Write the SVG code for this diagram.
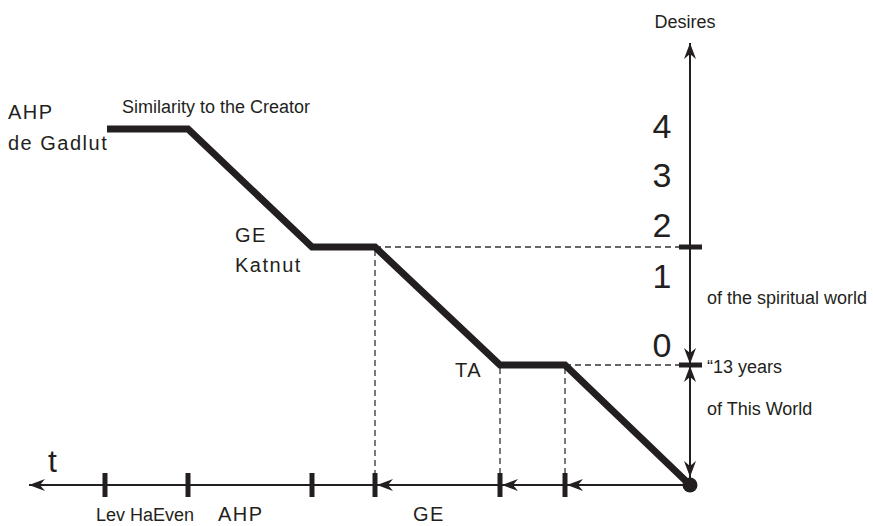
<svg xmlns="http://www.w3.org/2000/svg" width="873" height="526" viewBox="0 0 873 526">
<style>
text{font-family:"Liberation Sans",Arial,sans-serif;fill:#231f20}
.s{font-size:18px}
.m{font-size:20px;letter-spacing:1.5px}
.n{font-size:34px;text-anchor:middle}
.ax{stroke:#231f20;stroke-width:2;fill:none}
.tk{stroke:#231f20;stroke-width:5}
.dash{stroke:#333;stroke-width:1.3;stroke-dasharray:6 4;fill:none}
.thick{stroke:#231f20;stroke-width:7;fill:none;stroke-linejoin:miter}
</style>
<defs>
<marker id="ah" viewBox="0 0 16 12" refX="16" refY="6" markerWidth="16" markerHeight="12" markerUnits="userSpaceOnUse" orient="auto">
<path d="M0,0 L16,6 L0,12 L5,6 Z" fill="#231f20"/>
</marker>
</defs>
<g id="connectors">
<line class="dash" x1="375" y1="247" x2="685" y2="247"/>
<line class="dash" x1="565" y1="365" x2="685" y2="365"/>
<line class="dash" x1="375" y1="250" x2="375" y2="480"/>
<line class="dash" x1="500" y1="368" x2="500" y2="480"/>
<line class="dash" x1="565" y1="368" x2="565" y2="480"/>
<line class="ax" x1="690" y1="485" x2="690" y2="43" marker-end="url(#ah)"/>
<line class="ax" x1="690" y1="300" x2="690" y2="364" marker-end="url(#ah)"/>
<line class="ax" x1="690" y1="420" x2="690" y2="366" marker-end="url(#ah)"/>
<line class="ax" x1="690" y1="420" x2="690" y2="477" marker-end="url(#ah)"/>
<line class="ax" x1="690" y1="485" x2="29" y2="485" marker-end="url(#ah)"/>
<line class="ax" x1="420" y1="485" x2="377" y2="485" marker-end="url(#ah)"/>
<line class="ax" x1="530" y1="485" x2="502" y2="485" marker-end="url(#ah)"/>
<line class="ax" x1="600" y1="485" x2="567" y2="485" marker-end="url(#ah)"/>
<line class="tk" x1="105" y1="473" x2="105" y2="497"/>
<line class="tk" x1="188" y1="473" x2="188" y2="497"/>
<line class="tk" x1="312" y1="473" x2="312" y2="497"/>
<line class="tk" x1="375" y1="473" x2="375" y2="497"/>
<line class="tk" x1="500" y1="473" x2="500" y2="497"/>
<line class="tk" x1="565" y1="473" x2="565" y2="497"/>
<line class="tk" x1="679" y1="247" x2="702" y2="247"/>
<line class="tk" x1="679" y1="365" x2="702" y2="365"/>
<path class="thick" d="M107,129 L188,129 L312,247 L375,247 L500,365 L565,365 L690,485"/>
<circle cx="690" cy="485" r="7.5" fill="#231f20"/>
</g>
<g id="axis-labels">
<text class="s" x="685" y="28" text-anchor="middle">Desires</text>
<text x="48" y="472" style="font-size:32px">t</text>
<text class="n" x="662" y="138">4</text>
<text class="n" x="662" y="187">3</text>
<text class="n" x="662" y="237">2</text>
<text class="n" x="662" y="288">1</text>
<text class="n" x="662" y="357">0</text>
<text class="s" x="707" y="304">of the spiritual world</text>
<text class="s" x="707" y="373">“13 years</text>
<text class="s" x="707" y="415">of This World</text>
</g>
<g id="node-ahp-gadlut">
<text class="m" x="8" y="119">AHP</text>
<text class="m" x="8" y="150">de Gadlut</text>
<text class="s" x="122" y="113">Similarity to the Creator</text>
</g>
<g id="node-ge-katnut">
<text class="m" x="235" y="242">GE</text>
<text class="m" x="235" y="272">Katnut</text>
</g>
<g id="node-ta">
<text class="m" x="455" y="377">TA</text>
</g>
<g id="time-labels">
<text class="s" x="96" y="521">Lev HaEven</text>
<text class="m" x="218" y="521">AHP</text>
<text class="m" x="413" y="521">GE</text>
</g>
</svg>
